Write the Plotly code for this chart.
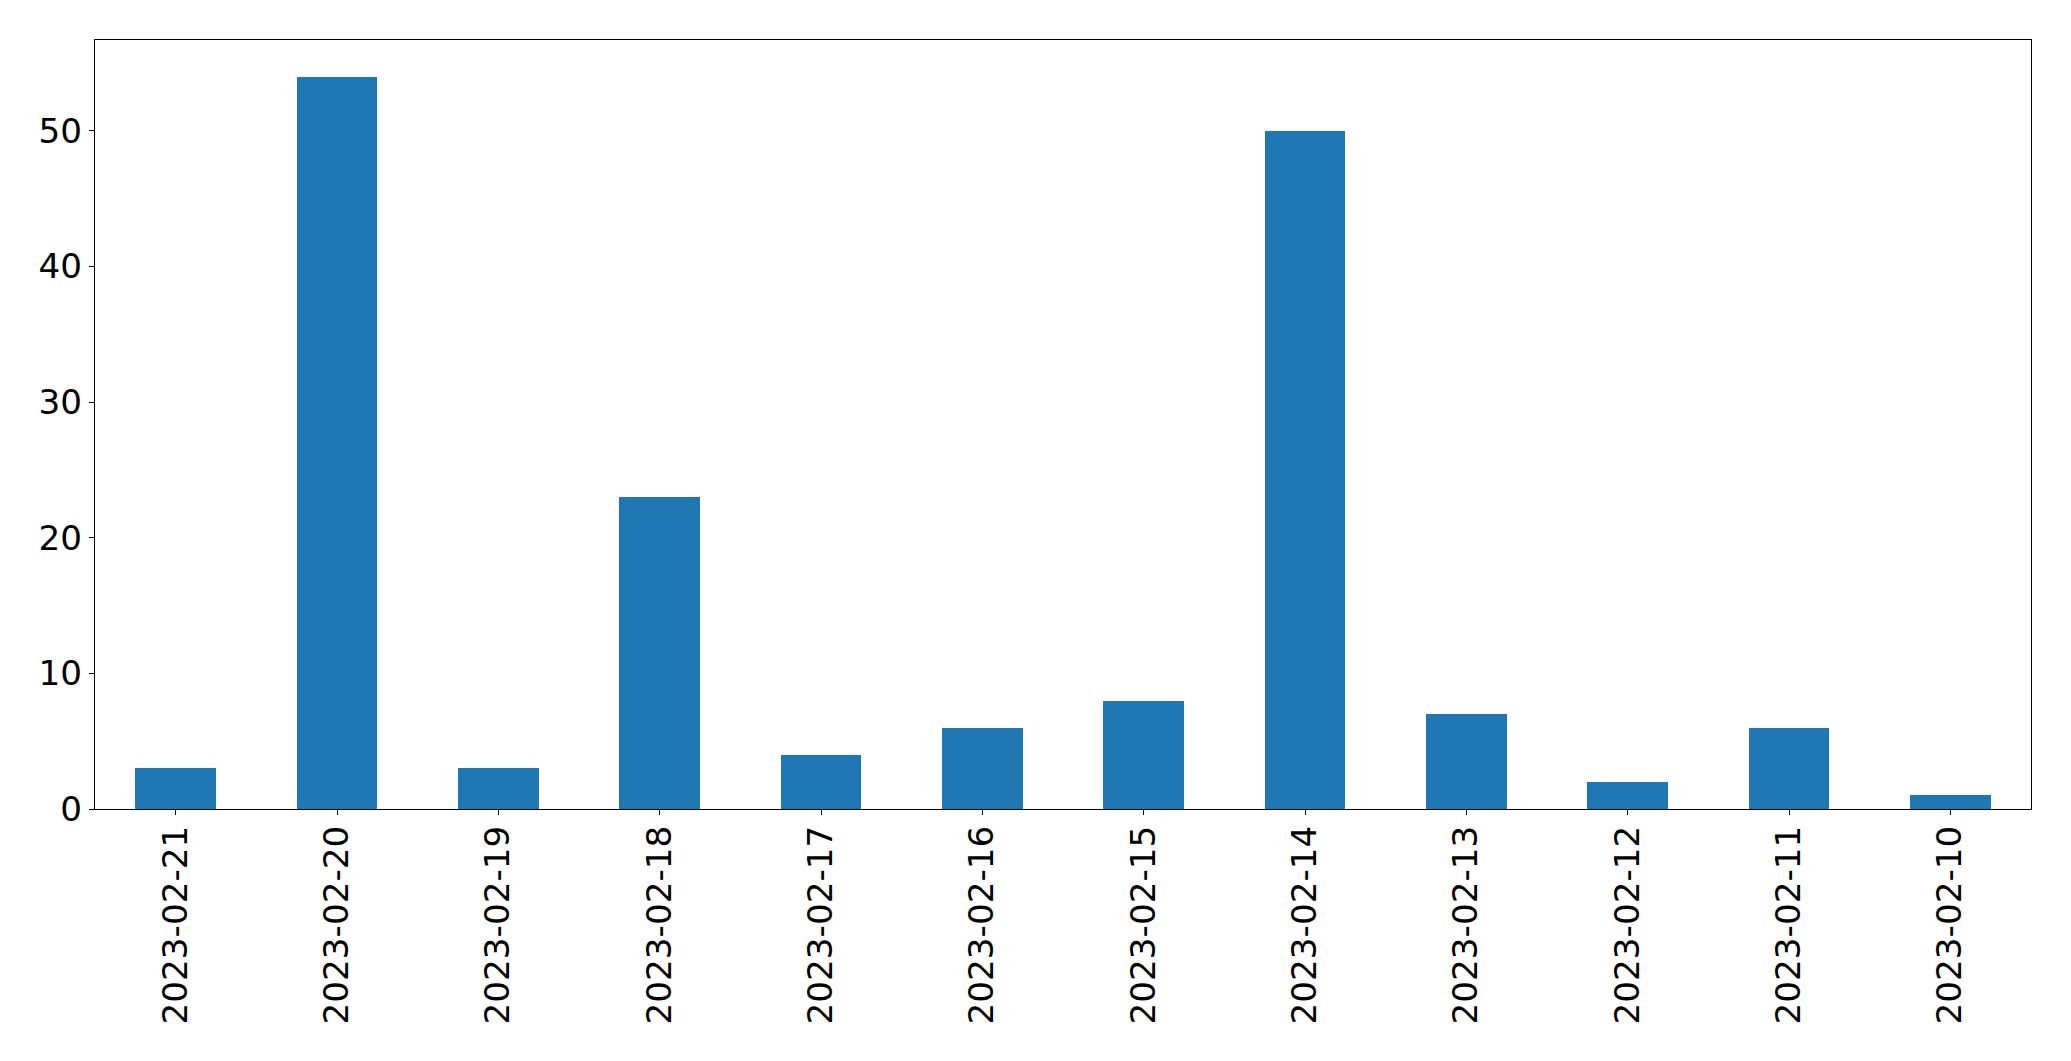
import plotly.graph_objects as go

dates = ["2023-02-21", "2023-02-20", "2023-02-19", "2023-02-18", "2023-02-17", "2023-02-16",
         "2023-02-15", "2023-02-14", "2023-02-13", "2023-02-12", "2023-02-11", "2023-02-10"]
counts = [3, 54, 3, 23, 4, 6, 8, 50, 7, 2, 6, 1]
y_ticks = [0, 10, 20, 30, 40, 50]

W, H = 2071, 1061
L, R, T, B = 94.5, 39.5, 39.5, 251.7

fig = go.Figure(go.Bar(
    x=list(range(len(dates))), y=counts, width=0.5,
    marker=dict(color="#1f77b4", line=dict(width=0)),
))

fnt = dict(family="DejaVu Sans", size=34.2, color="black")
fig.update_layout(
    width=W, height=H,
    margin=dict(l=L, r=R, t=T, b=B, pad=0),
    paper_bgcolor="white", plot_bgcolor="white",
    showlegend=False, bargap=0,
    xaxis=dict(
        range=[-0.5, len(dates) - 0.5], tickmode="array",
        tickvals=list(range(len(dates))), ticktext=dates, tickangle=-90,
        ticks="outside", ticklen=5, tickwidth=1.1, tickcolor="black",
        showline=True, linecolor="black", linewidth=1.1, mirror=True,
        showgrid=False, zeroline=False, tickfont=fnt, ticklabelstandoff=-3,
    ),
    yaxis=dict(
        range=[0, max(counts) * 1.05], tickmode="array", tickvals=y_ticks,
        ticks="outside", ticklen=5, tickwidth=1.1, tickcolor="black",
        showline=True, linecolor="black", linewidth=1.1, mirror=True,
        showgrid=False, zeroline=False, tickfont=fnt,
    ),
)
fig.write_html("out.html", config={"displayModeBar": False},
               post_script="document.body.style.margin='0';document.body.style.overflow='hidden';")
